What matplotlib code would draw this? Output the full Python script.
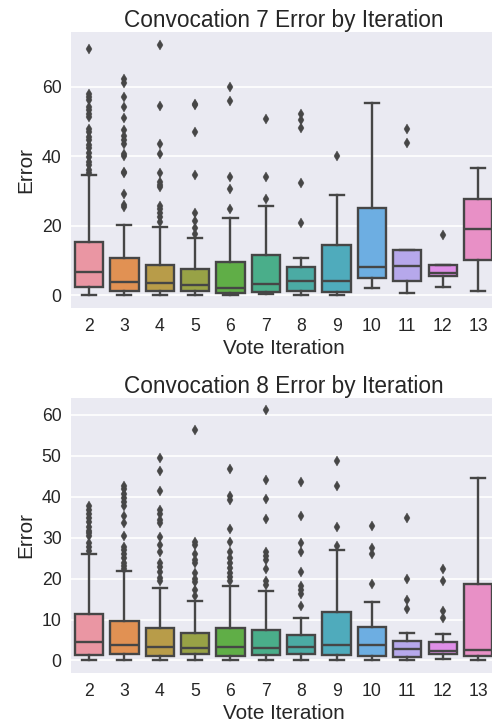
import colorsys
import matplotlib
matplotlib.use("Agg")
import matplotlib.pyplot as plt
import seaborn as sns

plt.rcParams['font.family'] = ['Liberation Sans', 'DejaVu Sans']

iterations = [2, 3, 4, 5, 6, 7, 8, 9, 10, 11, 12, 13]

# convocation 7: box stats
c7_whislo = [0.1, 0.0, 0.0, 0.0, 0.0, 0.4, 0.2, 0.2, 2.1, 0.7, 2.3, 1.4]
c7_q1 = [2.3, 1.4, 1.4, 1.2, 0.7, 1.1, 1.3, 1.1, 5.0, 4.2, 5.5, 10.2]
c7_med = [6.7, 4.0, 3.7, 3.0, 2.1, 3.3, 4.3, 4.2, 8.1, 8.6, 6.6, 19.1]
c7_q3 = [15.3, 10.9, 8.8, 7.6, 9.5, 11.7, 8.1, 14.5, 25.3, 13.1, 8.8, 27.8]
c7_whishi = [34.6, 20.3, 19.8, 16.5, 22.2, 25.7, 10.8, 28.9, 55.4, 13.1, 8.8, 36.8]
c7_fliers = [
    [70.8, 58.1, 57.1, 56.2, 54.3, 53.3, 52.3, 51.4, 48.0, 47.1, 45.6, 44.7,
     43.3, 42.3, 40.9, 39.9, 38.5, 37.5, 36.1, 35.1],
    [62.4, 61.0, 57.1, 54.1, 51.2, 47.6, 45.8, 44.7, 43.7, 40.7, 40.1, 35.6,
     35.1, 29.1, 26.0, 25.5],
    [72.2, 54.4, 43.5, 40.7, 35.3, 32.7, 31.8, 31.1, 25.7, 24.8, 23.8, 22.5, 21.2],
    [55.2, 54.7, 47.1, 34.8, 23.8, 21.5, 19.3, 17.7],
    [60.0, 56.0, 34.0, 30.6, 24.8],
    [50.7, 34.0, 27.7],
    [52.2, 50.6, 48.3, 32.4, 20.8],
    [40.2],
    [],
    [47.8, 43.9],
    [17.5],
    [],
]

# convocation 8
c8_whislo = [0.0, 0.0, 0.0, 0.0, 0.0, 0.0, 0.0, 0.0, 0.1, 0.1, 0.4, 0.2]
c8_q1 = [1.4, 1.5, 1.1, 1.5, 1.1, 1.4, 1.5, 1.4, 1.2, 0.9, 1.6, 1.1]
c8_med = [4.5, 3.9, 3.2, 3.0, 3.3, 3.1, 3.2, 3.7, 3.7, 2.7, 2.3, 2.5]
c8_q3 = [11.4, 9.6, 7.9, 6.7, 7.9, 7.5, 6.2, 11.8, 8.1, 4.8, 4.5, 18.7]
c8_whishi = [26.0, 21.9, 17.8, 14.6, 18.2, 16.9, 10.5, 27.0, 14.3, 6.8, 6.4, 44.5]
c8_fliers = [
    [37.7, 36.7, 35.7, 34.9, 33.9, 32.7, 31.7, 31.1, 30.4, 28.6, 27.8, 26.8],
    [42.6, 41.8, 40.8, 39.6, 38.8, 37.7, 35.3, 33.6, 30.4, 27.8, 27.0, 26.0,
     25.0, 23.9, 23.1, 22.3],
    [49.5, 46.3, 41.4, 36.7, 35.8, 34.3, 33.5, 30.2, 28.2, 26.4, 23.8, 22.9,
     21.7, 20.1, 19.3],
    [56.2, 29.0, 28.2, 26.0, 24.6, 23.8, 21.3, 19.9, 19.1, 17.3, 15.8],
    [46.9, 40.1, 39.2, 32.1, 29.0, 26.6, 25.0, 23.9, 22.5, 21.3, 20.3, 19.5],
    [61.1, 44.0, 39.4, 34.6, 26.4, 25.5, 24.6, 22.3, 19.3, 18.5],
    [43.5, 35.3, 28.6, 26.4, 21.5, 18.2, 17.3, 16.3, 13.4],
    [48.7, 42.6, 32.5, 28.0],
    [32.9, 27.6, 26.0, 18.7],
    [34.9, 19.9, 14.8, 12.6],
    [22.4, 19.5, 12.2, 10.4],
    [],
]

# seaborn-like colours
colors = [sns.desaturate(c, 0.75) for c in sns.husl_palette(len(iterations), l=.7)]
lum = min(colorsys.rgb_to_hls(*c)[1] for c in colors) * .6
gray = (lum, lum, lum)

bg = '#EAEAF2'


def make_stats(whislo, q1, med, q3, whishi, fliers):
    stats = []
    for i in range(len(iterations)):
        stats.append(dict(whislo=whislo[i], q1=q1[i], med=med[i], q3=q3[i],
                          whishi=whishi[i], fliers=fliers[i], label=str(iterations[i])))
    return stats


def draw(ax, stats, title):
    ax.set_facecolor(bg)
    lw = 1.7
    bp = ax.bxp(stats, positions=range(len(stats)), widths=0.8, patch_artist=True,
                boxprops=dict(edgecolor=gray, linewidth=lw),
                medianprops=dict(color=gray, linewidth=lw),
                whiskerprops=dict(color=gray, linewidth=lw),
                capprops=dict(color=gray, linewidth=lw),
                flierprops=dict(marker='d', markersize=5, markerfacecolor=gray,
                                markeredgecolor=gray, markeredgewidth=0.3,
                                linestyle='none'))
    for patch, c in zip(bp['boxes'], colors):
        patch.set_facecolor(c)
    ax.set_xlim(-0.5, len(stats) - 0.5)
    ax.yaxis.grid(True, color='white', linewidth=1.2)
    ax.xaxis.grid(False)
    ax.set_axisbelow(True)
    for s in ax.spines.values():
        s.set_visible(False)
    ax.tick_params(length=0, pad=7, labelsize=12.7, colors='#262626')
    ax.set_title(title, fontsize=16.3, pad=3.8, color='#262626')
    ax.set_xlabel('Vote Iteration', fontsize=14.9, color='#262626', labelpad=3)
    ax.set_ylabel('Error', fontsize=14.9, color='#262626', labelpad=5)


fig = plt.figure(figsize=(4.92, 7.23), dpi=100)
ax1 = fig.add_axes([0.145, 0.574, 0.8626, 0.3817])
ax2 = fig.add_axes([0.145, 0.0692, 0.8626, 0.3804])

draw(ax1, make_stats(c7_whislo, c7_q1, c7_med, c7_q3, c7_whishi, c7_fliers),
     'Convocation 7 Error by Iteration')
draw(ax2, make_stats(c8_whislo, c8_q1, c8_med, c8_q3, c8_whishi, c8_fliers),
     'Convocation 8 Error by Iteration')
ax1.set_yticks([0, 20, 40, 60])
ax2.set_yticks([0, 10, 20, 30, 40, 50, 60])

fig.savefig('out.png', dpi=100, facecolor='white')
